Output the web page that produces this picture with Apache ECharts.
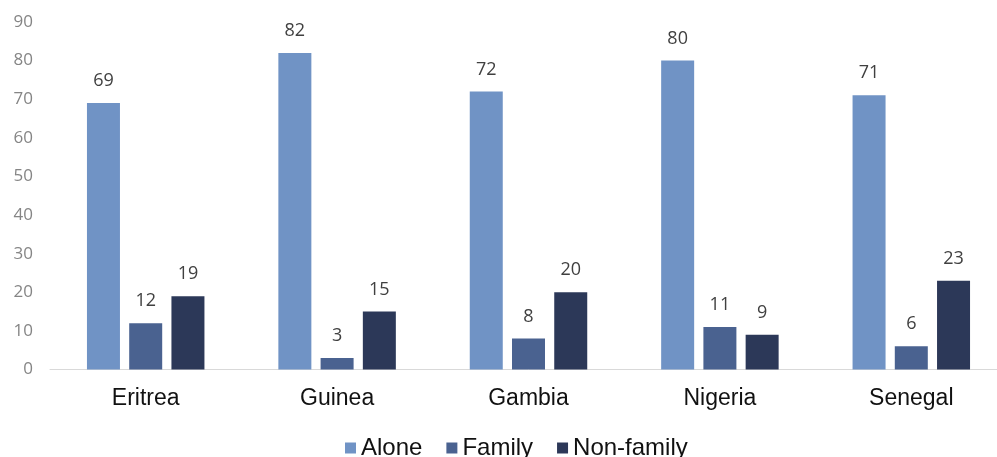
<!DOCTYPE html>
<html>
<head>
<meta charset="utf-8">
<script src="https://cdn.jsdelivr.net/npm/echarts@6/dist/echarts.min.js"></script>
<style>
  html, body { margin: 0; padding: 0; background: #ffffff; overflow: hidden; }
  #chart { width: 1010px; height: 457px; }
</style>
</head>
<body>
<div id="chart"></div>
<script>
// Countries along the x axis
var countries = ['Eritrea', 'Guinea', 'Gambia', 'Nigeria', 'Senegal'];
// Share (%) by travel arrangement
var alone = [69, 82, 72, 80, 71];
var family = [12, 3, 8, 11, 6];
var nonFamily = [19, 15, 20, 9, 23];

var seriesNames = ['Alone', 'Family', 'Non-family'];
var seriesColors = ['#7093c5', '#4a6290', '#2c3858'];
var seriesData = [alone, family, nonFamily];

var chart = echarts.init(document.getElementById('chart'), null, { renderer: 'canvas' });

var series = seriesData.map(function (vals, i) {
  return {
    name: seriesNames[i],
    type: 'bar',
    data: vals,
    barWidth: 33,
    barGap: '28%',
    itemStyle: { color: seriesColors[i] },
    label: {
      show: true,
      position: 'top',
      distance: 13,
      color: '#404040',
      fontSize: 18,
      fontFamily: 'Open Sans'
    }
  };
});

chart.setOption({
  animation: false,
  backgroundColor: '#ffffff',
  grid: { left: 50, top: 22, width: 957, bottom: 87.5, containLabel: false },
  legend: {
    top: 436,
    left: 345,
    padding: 0,
    itemWidth: 11,
    itemHeight: 11,
    itemGap: 24,
    icon: 'rect',
    textStyle: { fontSize: 24, color: '#111111', fontFamily: 'Liberation Sans' },
    data: seriesNames
  },
  xAxis: {
    type: 'category',
    data: countries,
    axisLine: { show: true, lineStyle: { color: '#d9d9d9', width: 1 } },
    axisTick: { show: false },
    axisLabel: { margin: 18, fontSize: 23, color: '#111111', fontFamily: 'Liberation Sans' }
  },
  yAxis: {
    type: 'value',
    min: 0,
    max: 90,
    interval: 10,
    axisLine: { show: false },
    axisTick: { show: false },
    splitLine: { show: false },
    axisLabel: { margin: 17, fontSize: 17, color: '#858585', fontFamily: 'Open Sans' }
  },
  series: series
});
</script>
</body>
</html>
